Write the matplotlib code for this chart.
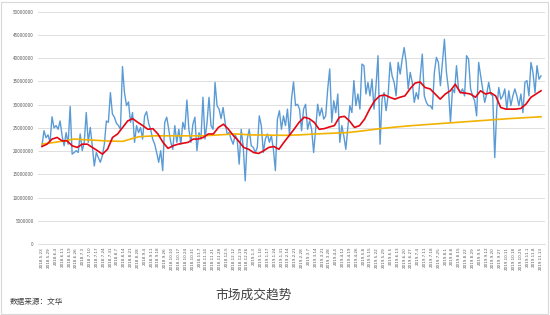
import numpy as np
import matplotlib
matplotlib.use("Agg")
import matplotlib.pyplot as plt
from matplotlib.patches import Rectangle

plt.rcParams['font.family'] = ['Noto Sans CJK SC', 'DejaVu Sans']

# daily turnover (millions)
volume_m = [
    21.15, 24.4, 22.9, 23.5, 21.9, 27.4, 25.0, 25.5, 24.7, 26.5, 23.3, 21.15, 24.0, 21.5, 29.6,
    19.35, 19.7, 20.1, 19.7, 23.7, 20.1, 21.9, 28.3, 21.9, 25.1, 21.15, 16.8, 19.7, 18.6, 17.6,
    19.0, 21.5, 26.5, 26.2, 32.6, 28.0, 27.3, 26.0, 25.5, 24.7,
    38.2, 32.6, 29.8, 30.6, 26.2, 28.3, 21.9, 25.5, 24.0, 25.1, 22.6, 27.6, 28.5, 26.0, 24.7,
    22.6, 21.5, 19.7, 17.6, 20.1, 15.8, 26.2, 27.3, 24.7, 21.9, 20.4, 25.5, 21.9, 24.7, 21.5,
    26.2, 24.7, 31.0, 24.7, 21.9, 25.8, 27.3, 20.1, 24.0, 22.6, 31.6, 22.6, 26.0, 31.6, 25.5,
    24.7, 34.8, 29.8, 29.05, 27.0, 29.4, 26.2, 23.7, 24.0, 22.6, 21.5, 23.5, 22.6, 17.2, 24.7,
    21.0, 13.6, 22.6, 24.7, 21.15, 20.8, 19.7, 20.8, 27.6, 25.5, 19.7, 22.6, 23.7, 21.9, 23.3,
    20.4, 15.8, 26.9, 28.7, 24.7, 27.6, 25.5, 29.05, 23.3, 31.2, 34.9, 29.8, 30.1, 29.05, 24.4,
    29.05, 30.1, 24.7, 26.5, 24.7, 19.7, 24.7, 30.1, 27.6, 29.3, 26.9, 27.6, 33.4, 37.7, 26.2,
    30.85, 28.3, 32.3, 21.9, 25.5, 23.3, 20.4, 25.1, 29.8, 28.3, 35.2, 29.8, 32.3, 29.05, 38.75,
    38.4, 32.3, 34.8, 31.9, 35.5, 29.05, 34.1, 40.55, 21.5, 31.2, 32.6, 28.7, 31.9, 39.1, 36.2,
    34.8, 31.9, 39.1, 36.6, 39.8, 42.3, 39.1, 33.4, 36.95, 34.8, 30.5, 32.6, 31.2, 36.2, 40.9,
    31.9, 30.5, 29.8, 29.8, 29.05, 36.95, 40.2, 39.1, 34.1, 39.1, 44.1, 36.95, 33.4, 26.2, 33.4,
    32.6, 38.4, 33.4, 32.6, 33.4, 31.9, 40.55, 39.8, 33.4, 31.9, 30.85, 27.6, 39.1, 36.2, 33.4,
    30.5, 32.3, 34.8, 32.3, 31.9, 18.6, 29.05, 33.7, 31.2, 31.9, 33.4, 29.05, 33.0, 29.8, 31.9,
    33.4, 31.9, 29.8, 32.3, 28.3, 34.8, 35.2, 31.9, 39.1, 36.95, 32.6, 38.4, 35.5, 36.2,
]

# short moving average (millions)
ma_short_m = [
    21.0, 21.5, 22.6, 22.95, 22.2, 22.2, 21.15, 20.8, 21.5, 21.5, 20.8, 20.1, 19.35, 20.4,
    22.95, 23.7, 25.1, 26.5, 27.0, 26.2, 25.5, 24.7, 24.85, 23.7, 21.9, 20.6, 21.15, 21.5,
    21.7, 21.9, 22.6, 22.6, 22.95, 23.7, 23.7, 25.1, 25.8, 24.7, 23.3, 22.2, 20.8, 20.4,
    19.7, 19.5, 20.1, 20.8, 21.0,
    20.4, 21.9, 23.3, 24.7, 26.2, 27.3, 27.0, 26.2, 24.7, 24.85, 25.2, 25.5, 27.3, 27.5,
    26.5, 25.1, 25.5, 26.9, 29.05, 30.85, 31.9, 32.1, 31.6, 31.2, 31.6, 31.9, 33.4, 34.65,
    34.9, 33.7, 33.4, 32.3, 31.2, 32.3, 33.0, 34.4, 32.6, 32.5, 32.3, 31.6, 33.0, 32.3,
    32.6, 31.9, 29.4, 29.05, 29.05, 29.05, 29.2, 30.1, 31.6, 32.3, 33.0,
]

# long moving average (millions)
ma_long_m = [
    21.5, 22.0, 22.6, 22.4, 22.2, 22.1, 23.1, 23.3, 23.3, 23.3, 23.3, 23.5, 23.7, 23.5,
    23.45, 23.4, 23.5, 23.7, 23.85, 24.0, 24.4, 24.85, 25.2, 25.5, 25.75, 26.0, 26.25,
    26.5, 26.75, 27.0, 27.2, 27.4,
]

date_labels = [
    "2018.5.23", "2018.5.29", "2018.6.4", "2018.6.11", "2018.6.19", "2018.6.26", "2018.7.3",
    "2018.7.10", "2018.7.17", "2018.7.24", "2018.7.31", "2018.8.7", "2018.8.14", "2018.8.21",
    "2018.8.28", "2018.9.4", "2018.9.11", "2018.9.18", "2018.9.26", "2018.10.10", "2018.10.17",
    "2018.10.24", "2018.10.31", "2018.11.7", "2018.11.14", "2018.11.21", "2018.11.28",
    "2018.12.5", "2018.12.12", "2018.12.19", "2018.12.26", "2019.1.3", "2019.1.10",
    "2019.1.17", "2019.1.24", "2019.1.31", "2019.2.14", "2019.2.21", "2019.2.28", "2019.3.7",
    "2019.3.14", "2019.3.21", "2019.3.28", "2019.4.4", "2019.4.12", "2019.4.19", "2019.4.26",
    "2019.5.8", "2019.5.15", "2019.5.22", "2019.5.29", "2019.6.5", "2019.6.13", "2019.6.20",
    "2019.6.27", "2019.7.4", "2019.7.11", "2019.7.18", "2019.7.25", "2019.8.1", "2019.8.8",
    "2019.8.15", "2019.8.22", "2019.8.29", "2019.9.5", "2019.9.12", "2019.9.20", "2019.9.27",
    "2019.10.11", "2019.10.18", "2019.10.25", "2019.11.1", "2019.11.8", "2019.11.13",
]

y_ticks = list(range(0, 50000001, 5000000))

title_text = "市场成交趋势"
source_text = "数据来源：文华"

volume = np.array(volume_m) * 1e6
ma_short = np.array(ma_short_m) * 1e6
ma_long = np.array(ma_long_m) * 1e6
n = len(volume)
x = np.arange(n)

fig = plt.figure(figsize=(5.5, 3.15), dpi=100)
fig.patch.set_facecolor("white")
fig.add_artist(Rectangle((0.002, 0.004), 0.994, 0.99, transform=fig.transFigure,
                         fill=False, edgecolor="#d9d9d9", linewidth=0.8))

ax = fig.add_axes([0.069, 0.2254, 0.922, 0.737])
ax.plot(x, volume, color="#5b9bd5", linewidth=1.0, zorder=2)
ax.plot(np.linspace(0, n - 1, len(ma_long)), ma_long, color="#f2b200", linewidth=1.2, zorder=3)
ax.plot(np.linspace(0, n - 1, len(ma_short)), ma_short, color="#e30613", linewidth=1.2, zorder=4)

ax.set_ylim(0, 50000000)
ax.set_xlim(-2, n + 1)
ax.set_yticks(y_ticks)
ax.set_yticklabels([str(v) for v in y_ticks], fontsize=3.3, color="#595959")
ax.yaxis.grid(True, color="#d9d9d9", linewidth=0.6)
ax.set_axisbelow(True)
ax.tick_params(axis="y", length=0, pad=3)

tick_pos = np.linspace(0, n - 1, len(date_labels))
ax.set_xticks(tick_pos)
ax.set_xticklabels(date_labels, rotation=90, fontsize=3.0, color="#595959",
                   family=["DejaVu Sans"], va="top")
ax.tick_params(axis="x", length=0, pad=2)

for s in ["top", "right", "left"]:
    ax.spines[s].set_visible(False)
ax.spines["bottom"].set_color("#d9d9d9")
ax.spines["bottom"].set_linewidth(0.6)

fig.text(0.462, 0.063, title_text, fontsize=9.2, color="#404040", ha="center", va="center")
fig.text(0.018, 0.04, source_text, fontsize=5.5, color="#404040", ha="left", va="center")

fig.savefig("out.png", dpi=100, facecolor="white")
